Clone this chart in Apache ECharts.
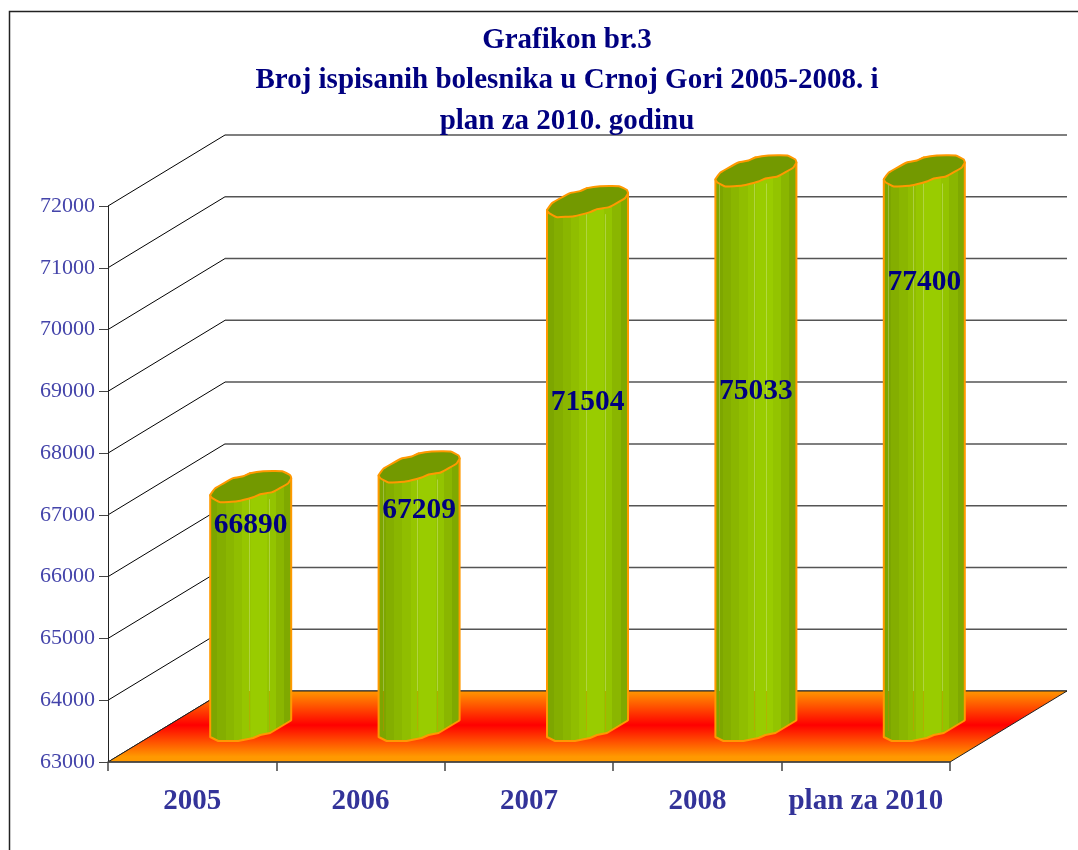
<!DOCTYPE html>
<html>
<head>
    <meta charset="utf-8" />
    <title>Grafikon br.3</title>
    <script src="https://cdn.jsdelivr.net/npm/echarts@6/dist/echarts.min.js"></script>
    <style>
        html, body { margin: 0; padding: 0; background: #fff; }
    </style>
</head>
<body>
    <div id="main" style="width: 1078px;height:850px;"></div>

    <script type="text/javascript">
        var titleLines = [
            'Grafikon br.3',
            'Broj ispisanih bolesnika u Crnoj Gori 2005-2008. i',
            'plan za 2010. godinu'
        ];
        var categories = ['2005', '2006', '2007', '2008', 'plan za 2010'];
        var values = [66890, 67209, 71504, 75033, 77400];
        var yTicks = [63000, 64000, 65000, 66000, 67000, 68000, 69000, 70000, 71000, 72000];

        // 3d look: how far the back wall sits from the front axis
        var depthX = 117;
        var depthY = -71;
        var serif = '"Liberation Serif", serif';

        // outline of the cut top and of the foot, px from the bar's left edge
        var topShape = [[0, 0], [5, -7], [23, -17], [33, -19], [40, -22], [53, -24], [72, -24], [80, -20],
            [81, -17], [78, -12], [62, -3], [50, -1], [43, 2], [27, 6], [10, 7], [2, 3]];
        var footShape = [[81, -17], [80, -16], [60, -4], [50, -2], [43, 1], [28, 4], [8, 4], [0, 0]];
        var barWidth = 81;
        var barShift = 18;

        // labels were placed by hand in the original, px below the bar top
        var labelDrop = [30, 35, 192, 212, 103];
        var seamSets = [
            [0.48, 0.72],
            [0.05, 0.48, 0.72],
            [0.48, 0.72],
            [0.05, 0.48, 0.62],
            [0.05, 0.36, 0.48, 0.72]
        ];

        function facets() {
            var cols = ['#7da600', '#84ae00', '#8ab600', '#90be00', '#96c600', '#99cc00', '#99cc00', '#93c400', '#8ab600', '#7fa900'];
            var stops = [];
            cols.forEach(function (c, i) {
                stops.push({ offset: i / cols.length, color: c });
                stops.push({ offset: (i + 1) / cols.length, color: c });
            });
            return new echarts.graphic.LinearGradient(0, 0, 1, 0, stops);
        }

        function renderWall(params, api) {
            var cs = params.coordSys;
            var p = api.coord([0, api.value(0)]);
            var x0 = cs.x;
            var backX = x0 + depthX;
            var backY = p[1] + depthY;
            return {
                type: 'group',
                children: [
                    { type: 'line', shape: { x1: x0, y1: p[1], x2: backX, y2: backY }, style: { stroke: '#000', lineWidth: 1 } },
                    { type: 'line', shape: { x1: backX, y1: backY, x2: x0 + cs.width + depthX, y2: backY }, style: { stroke: '#555', lineWidth: 1.5 } }
                ]
            };
        }

        function renderFloor(params, api) {
            var cs = params.coordSys;
            var y = api.coord([0, yTicks[0]])[1];
            return {
                type: 'polygon',
                shape: {
                    points: [
                        [cs.x, y],
                        [cs.x + cs.width, y],
                        [cs.x + cs.width + depthX, y + depthY],
                        [cs.x + depthX, y + depthY]
                    ]
                },
                style: {
                    fill: new echarts.graphic.LinearGradient(0, 0, 0, 1, [
                        { offset: 0, color: '#ff9900' },
                        { offset: 0.48, color: '#ff0000' },
                        { offset: 0.92, color: '#ff9900' },
                        { offset: 1, color: '#ff9900' }
                    ]),
                    stroke: '#222',
                    lineWidth: 1
                }
            };
        }

        function renderBar(params, api) {
            var i = params.dataIndex;
            var yMax = yTicks[yTicks.length - 1];
            // bars above the axis end are cut off at 72000, as in the original
            var top = api.coord([i, Math.min(api.value(1), yMax)]);
            var foot = api.coord([i, yTicks[0]]);
            var left = top[0] + barShift;
            var topY = top[1] - 26.5;
            var footY = foot[1] - 25;
            var floorBackY = foot[1] + depthY;

            var topPts = topShape.map(function (p) { return [left + p[0], topY + p[1]]; });
            var footPts = footShape.map(function (p) { return [left + p[0], footY + p[1]]; });
            var body = [[left, topY], [left + 40, topY - 22], [left + barWidth, topY - 17]].concat(footPts);

            var children = [{
                type: 'polygon',
                shape: { points: body },
                style: { fill: facets(), stroke: '#ff9900', lineWidth: 2, lineJoin: 'round' }
            }];

            // gaps between the facets let the background through
            seamSets[i].forEach(function (f) {
                var sx = Math.round(left + f * barWidth) + 0.5;
                children.push({
                    type: 'line',
                    shape: { x1: sx, y1: topY + 4, x2: sx, y2: floorBackY },
                    style: { stroke: 'rgba(255,255,255,0.25)', lineWidth: 1 }
                });
                children.push({
                    type: 'line',
                    shape: { x1: sx, y1: floorBackY, x2: sx, y2: footY - 6 },
                    style: { stroke: 'rgba(255,110,0,0.25)', lineWidth: 1 }
                });
            });

            children.push({
                type: 'polygon',
                shape: { points: topPts, smooth: 0.12 },
                style: { fill: '#739900', stroke: '#ff9900', lineWidth: 2, lineJoin: 'round' }
            });
            children.push({
                type: 'text',
                style: {
                    text: String(api.value(1)),
                    x: left + barWidth / 2,
                    y: topY + labelDrop[i],
                    align: 'center',
                    verticalAlign: 'middle',
                    fill: '#000080',
                    font: 'bold 29.5px ' + serif
                }
            });
            return { type: 'group', children: children };
        }

        var myChart = echarts.init(document.getElementById('main'), null, { renderer: 'canvas' });

        var option = {
            animation: false,
            backgroundColor: '#fff',
            title: {
                text: titleLines.join('\n'),
                left: 562,
                top: 15,
                textAlign: 'center',
                textStyle: {
                    fontFamily: serif,
                    fontWeight: 'bold',
                    fontSize: 29,
                    lineHeight: 40.5,
                    color: '#000080'
                }
            },
            grid: { left: 108, right: 128, top: 206, bottom: 88 },
            xAxis: {
                type: 'category',
                data: categories,
                z: 5,
                axisLine: { lineStyle: { color: '#444', width: 1.5 } },
                axisTick: { show: true, length: 9, alignWithLabel: false, lineStyle: { color: '#444', width: 1.5 } },
                axisLabel: {
                    interval: 0,
                    margin: 25,
                    fontFamily: serif,
                    fontWeight: 'bold',
                    fontSize: 29,
                    color: '#333399'
                }
            },
            yAxis: {
                type: 'value',
                min: 63000,
                max: 72000,
                interval: 1000,
                z: 5,
                axisLine: { show: true, lineStyle: { color: '#222', width: 1 } },
                axisTick: { show: true, length: 9, lineStyle: { color: '#444', width: 1 } },
                axisLabel: {
                    margin: 13,
                    fontFamily: serif,
                    fontSize: 22,
                    color: '#4444aa',
                    formatter: function (v) { return String(v); }
                },
                splitLine: { show: false }
            },
            series: [
                {
                    type: 'custom',
                    name: 'wall',
                    coordinateSystem: 'cartesian2d',
                    renderItem: renderWall,
                    data: yTicks.map(function (v) { return [v]; }),
                    encode: { y: 0 },
                    z: 1,
                    silent: true
                },
                {
                    type: 'custom',
                    name: 'floor',
                    coordinateSystem: 'cartesian2d',
                    renderItem: renderFloor,
                    data: [[0]],
                    z: 2,
                    silent: true
                },
                {
                    type: 'custom',
                    name: 'bolesnici',
                    coordinateSystem: 'cartesian2d',
                    renderItem: renderBar,
                    data: categories.map(function (c, i) { return [i, values[i]]; }),
                    encode: { x: 0, y: 1 },
                    z: 3
                }
            ],
            graphic: [{
                type: 'polyline',
                shape: { points: [[9.5, 850], [9.5, 11.5], [1078, 11.5]] },
                style: { stroke: '#222', fill: null, lineWidth: 1.5 },
                silent: true
            }]
        };

        myChart.setOption(option);
    </script>
</body>
</html>
